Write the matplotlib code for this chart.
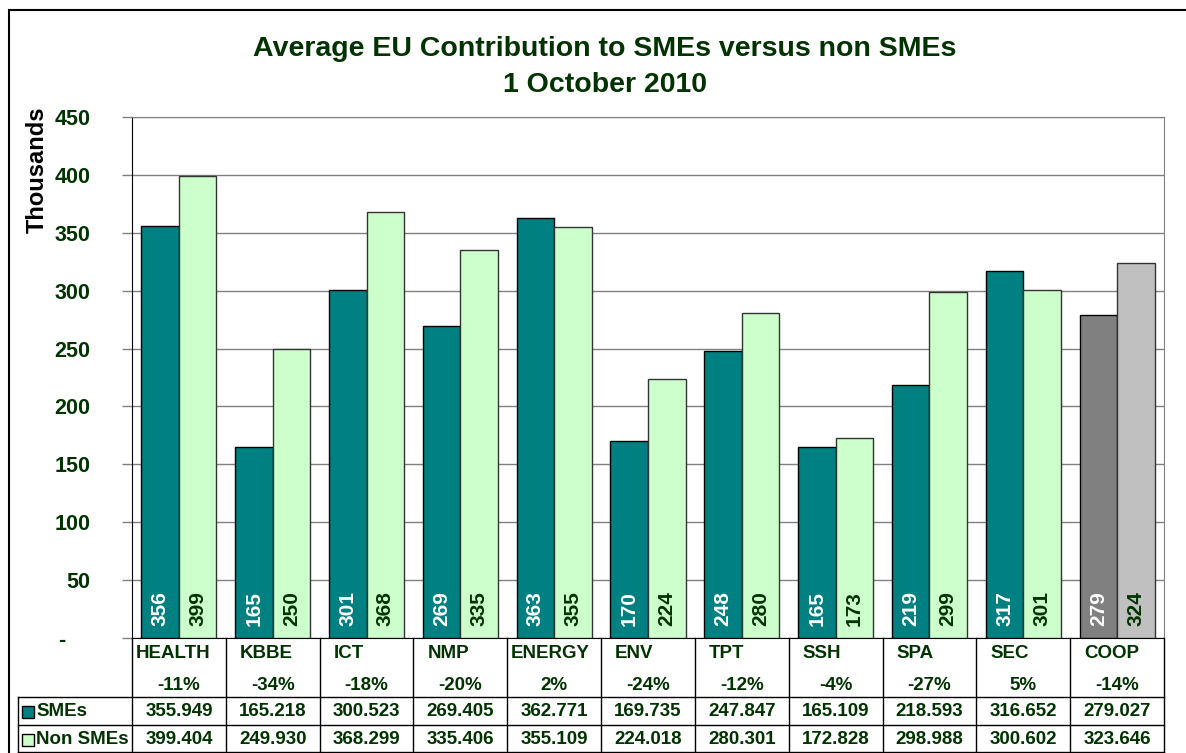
"""
Average EU contribution to SMEs versus non SMEs (1 October 2010)
Grouped bar chart with a data table underneath, Excel style
"""

import numpy as np
import matplotlib
matplotlib.use("Agg")
import matplotlib.pyplot as plt
from matplotlib.patches import Rectangle
from matplotlib.ticker import FuncFormatter

plt.rcParams['font.family'] = ['Liberation Sans', 'DejaVu Sans']

# data (thousands of EUR)
categories = ["HEALTH", "KBBE", "ICT", "NMP", "ENERGY", "ENV", "TPT", "SSH", "SPA", "SEC", "COOP"]
pct_labels = ["-11%", "-34%", "-18%", "-20%", "2%", "-24%", "-12%", "-4%", "-27%", "5%", "-14%"]
smes = [355.949, 165.218, 300.523, 269.405, 362.771, 169.735, 247.847, 165.109, 218.593, 316.652, 279.027]
non_smes = [399.404, 249.930, 368.299, 335.406, 355.109, 224.018, 280.301, 172.828, 298.988, 300.602, 323.646]
series_names = ["SMEs", "Non SMEs"]
y_ticks = [0, 50, 100, 150, 200, 250, 300, 350, 400, 450]

# colours
TEAL = "#008080"
LIGHT = "#CCFFCC"
DARK_GREEN = "#003300"
GRID = "#808080"

W, H = 1186, 753
fig = plt.figure(figsize=(W / 100, H / 100), dpi=100)

# plot area in pixels
px_left, px_right, px_top, px_bottom = 132, 1164, 117, 638
ax = fig.add_axes([px_left / W, 1 - px_bottom / H,
                   (px_right - px_left) / W, (px_bottom - px_top) / H])

n = len(categories)
x = np.arange(n)
bw = 0.4
cat_px = (px_right - px_left) / n

sme_colors = [TEAL] * (n - 1) + ["#808080"]
non_colors = [LIGHT] * (n - 1) + ["#C0C0C0"]

ax.bar(x - bw / 2, smes, bw, color=sme_colors, edgecolor="black", linewidth=1, zorder=3)
ax.bar(x + bw / 2, non_smes, bw, color=non_colors, edgecolor="#333333", linewidth=1, zorder=3)

# rotated value labels at the bottom of the bars
for i in range(n):
    ax.annotate(f"{round(smes[i])}", (x[i] - bw / 2, 0), xytext=(0, 9),
                textcoords="offset points", rotation=90, ha="center", va="bottom",
                color="white", fontsize=15, fontweight="bold", zorder=4)
    ax.annotate(f"{round(non_smes[i])}", (x[i] + bw / 2, 0), xytext=(0, 9),
                textcoords="offset points", rotation=90, ha="center", va="bottom",
                color=DARK_GREEN, fontsize=15, fontweight="bold", zorder=4)

ax.set_xlim(-0.5, n - 0.5)
ax.set_ylim(0, 450)
ax.set_yticks(y_ticks)
ax.yaxis.set_major_formatter(FuncFormatter(lambda v, p: "-    " if v == 0 else f"{v:.0f}"))
ax.tick_params(axis="y", length=7, width=1, color=GRID, pad=23, labelsize=15.5,
               labelcolor=DARK_GREEN)
for lab in ax.get_yticklabels():
    lab.set_fontweight("bold")
ax.set_xticks([])
ax.yaxis.grid(True, color=GRID, linewidth=1, zorder=0)
ax.set_axisbelow(True)
ax.spines["left"].set_color("black")
ax.spines["bottom"].set_color("black")
ax.spines["right"].set_color(GRID)
ax.spines["top"].set_color(GRID)
ax.set_ylabel("Thousands", fontsize=17, fontweight="bold", color="black")
ax.yaxis.set_label_coords(-0.081, 0.898)

# title
fig.text(605 / W, 1 - 49 / H, "Average EU Contribution to SMEs versus non SMEs",
         ha="center", va="center", fontsize=20.5, fontweight="bold", color=DARK_GREEN)
fig.text(605 / W, 1 - 85 / H, "1 October 2010",
         ha="center", va="center", fontsize=20.5, fontweight="bold", color=DARK_GREEN)

# data table under the plot (x in category units, y in pixels)
trans = ax.get_xaxis_transform()
plot_h = px_bottom - px_top


def yax(py):
    return (px_bottom - py) / plot_h


def xd(px):
    return -0.5 + (px - px_left) / cat_px


row1_bot, row2_bot, row3_bot = 697, 725, 752
tab_left = xd(18)
tab_right = n - 0.5
line_kw = dict(color="black", linewidth=1, transform=trans, clip_on=False)

ax.plot([tab_left, tab_right], [yax(row1_bot)] * 2, **line_kw)
ax.plot([tab_left, tab_right], [yax(row2_bot)] * 2, **line_kw)
ax.plot([tab_left, tab_right], [yax(row3_bot)] * 2, **line_kw)
ax.plot([tab_left, tab_left], [yax(row1_bot), yax(row3_bot)], **line_kw)
for b in np.arange(-0.5, n, 1.0):
    ax.plot([b, b], [0, yax(row3_bot)], **line_kw)

txt_kw = dict(transform=trans, clip_on=False, fontsize=13.5, fontweight="bold",
              color=DARK_GREEN)
for i, name in enumerate(categories):
    off = 0.15 if len(name) <= 4 else 0.04
    ax.text(i - 0.5 + off, yax(654), name, ha="left", va="center", **txt_kw)
    ax.text(i, yax(686), pct_labels[i], ha="center", va="center", **txt_kw)
    ax.text(i, yax(712), f"{smes[i]:.3f}", ha="center", va="center", **txt_kw)
    ax.text(i, yax(740), f"{non_smes[i]:.3f}", ha="center", va="center", **txt_kw)

# row headers with legend keys
for name, col, py in zip(series_names, [TEAL, LIGHT], [712, 740]):
    ax.add_patch(Rectangle((xd(22), yax(py + 6)), xd(34) - xd(22), yax(py - 6) - yax(py + 6),
                           facecolor=col, edgecolor="black", linewidth=1,
                           transform=trans, clip_on=False))
    ax.text(xd(36), yax(py), name, ha="left", va="center", **txt_kw)

# outer chart border
fig.add_artist(Rectangle((9 / W, -0.05), 1.1, 1 - 10 / H + 0.05, transform=fig.transFigure,
                         fill=False, edgecolor="black", linewidth=1.5))

fig.savefig("out.png", dpi=100)
